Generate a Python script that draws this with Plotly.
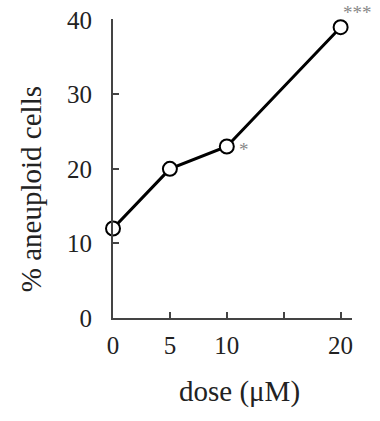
import plotly.graph_objects as go

dose = [0, 5, 10, 20]
aneuploid = [12, 20, 23, 39]
sig_x = [10, 20]
sig_y = [23, 39]
sig_text = ["*", "***"]
x_ticks = [0, 5, 10, 15, 20]
x_tick_labels = ["0", "5", "10", "", "20"]
y_ticks = [0, 10, 20, 30, 40]
x_title = "dose (μM)"
y_title = "% aneuploid cells"

font = "Liberation Serif, Times New Roman, serif"

fig = go.Figure()
fig.add_trace(go.Scatter(
    x=dose, y=aneuploid, mode="lines+markers",
    line=dict(color="black", width=3),
    marker=dict(size=14, color="white", line=dict(color="black", width=2)),
    cliponaxis=False, showlegend=False, hoverinfo="skip",
))

# significance marks
fig.add_annotation(x=sig_x[0], y=sig_y[0], text=sig_text[0], showarrow=False,
                   xanchor="left", yanchor="middle", xshift=10, yshift=-3,
                   font=dict(family=font, size=19, color="#888888"))
fig.add_annotation(x=sig_x[1], y=sig_y[1], text=sig_text[1], showarrow=False,
                   xanchor="left", yanchor="bottom", xshift=0, yshift=2,
                   font=dict(family=font, size=19, color="#888888"))

# axis titles
fig.add_annotation(xref="paper", yref="paper", x=0.531, y=-0.247, text=x_title,
                   showarrow=False, xanchor="center", yanchor="middle",
                   font=dict(family=font, size=29, color="#222222"))
fig.add_annotation(xref="paper", yref="paper", x=-0.343, y=0.431, text=y_title,
                   showarrow=False, xanchor="center", yanchor="middle", textangle=-90,
                   font=dict(family=font, size=29, color="#222222"))

fig.update_layout(
    width=380, height=421,
    margin=dict(l=113, r=28, t=19, b=103),
    paper_bgcolor="white", plot_bgcolor="white",
    font=dict(family=font, size=25, color="#222222"),
    hovermode=False,
    xaxis=dict(range=[0, 21], tickvals=x_ticks, ticktext=x_tick_labels,
               ticks="inside", ticklen=6, tickwidth=2, tickcolor="#444444",
               showline=True, linecolor="#444444", linewidth=2,
               showgrid=False, zeroline=False, ticklabelstandoff=4,
               automargin=False, tickfont=dict(size=25)),
    yaxis=dict(range=[0, 40.1], tickvals=y_ticks,
               ticks="inside", ticklen=6, tickwidth=2, tickcolor="#444444",
               showline=True, linecolor="#444444", linewidth=2,
               showgrid=False, zeroline=False, ticklabelstandoff=14,
               automargin=False, tickfont=dict(size=25)),
)

fig.write_html("out.html", config={"displayModeBar": False},
               post_script="document.body.style.margin='0';")
